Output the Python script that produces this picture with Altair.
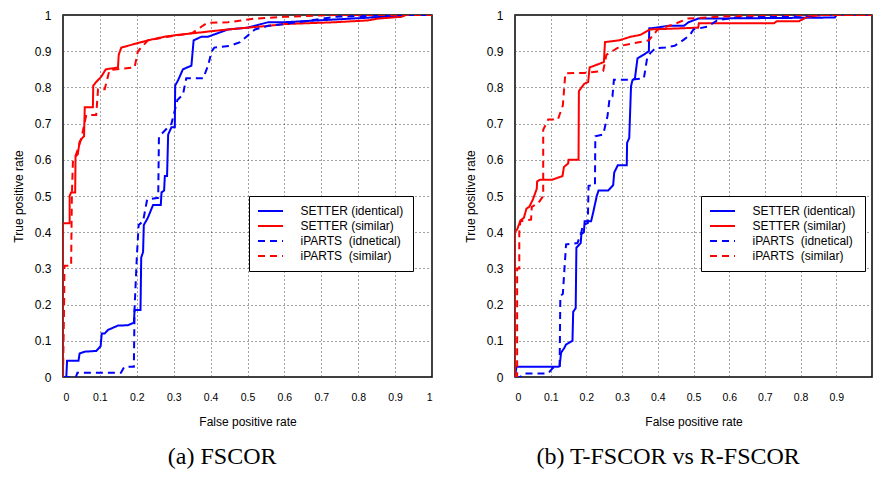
import altair as alt
import pandas as pd

FONT = "Liberation Sans"
SERIF = "Liberation Serif"

NAMES = ["SETTER (identical)", "SETTER (similar)",
         "iPARTS\u00a0 (idnetical)", "iPARTS\u00a0 (similar)"]
COLORS = ["#0000ff", "#ff0000", "#0000ff", "#ff0000"]
DASHES = [[1, 0], [1, 0], [7, 5], [7, 5]]
TICKS = [0, 0.1, 0.2, 0.3, 0.4, 0.5, 0.6, 0.7, 0.8, 0.9, 1]
TICKS_B = [0, 0.1, 0.2, 0.3, 0.4, 0.5, 0.6, 0.7, 0.8, 0.9]

# ---- panel (a) FSCOR ----
A_SET_ID_X = [0, 0.009, 0.011, 0.042, 0.045, 0.059, 0.09, 0.102, 0.105, 0.113, 0.122, 0.149, 0.176, 0.192,
              0.194, 0.21, 0.212, 0.217, 0.219, 0.23, 0.244, 0.265, 0.267, 0.274, 0.276, 0.282, 0.285, 0.294,
              0.303, 0.304, 0.312, 0.325, 0.348, 0.354, 0.375, 0.393, 0.447, 0.5, 0.537, 0.556, 0.6, 0.69,
              0.78, 0.87, 0.925, 1.0]
A_SET_ID_Y = [0, 0, 0.045, 0.045, 0.065, 0.07, 0.072, 0.085, 0.12, 0.12, 0.13, 0.142, 0.143, 0.15,
              0.185, 0.185, 0.33, 0.345, 0.42, 0.44, 0.475, 0.475, 0.51, 0.515, 0.555, 0.555, 0.67, 0.69,
              0.69, 0.805, 0.82, 0.85, 0.86, 0.93, 0.94, 0.94, 0.96, 0.965, 0.975, 0.98, 0.98, 0.985,
              0.99, 0.995, 1.0, 1.0]

A_SET_SIM_X = [0, 0, 0.018, 0.018, 0.022, 0.033, 0.034, 0.04, 0.045, 0.052, 0.057, 0.059, 0.081, 0.082,
               0.09, 0.104, 0.116, 0.149, 0.151, 0.158, 0.194, 0.23, 0.275, 0.31, 0.357, 0.4, 0.447, 0.5,
               0.556, 0.6, 0.736, 0.826, 0.853, 0.917, 0.93, 1.0]
A_SET_SIM_Y = [0, 0.425, 0.425, 0.5, 0.51, 0.51, 0.61, 0.615, 0.65, 0.66, 0.665, 0.745, 0.745, 0.805,
               0.815, 0.83, 0.85, 0.855, 0.89, 0.91, 0.92, 0.93, 0.94, 0.945, 0.95, 0.955, 0.96, 0.965,
               0.97, 0.975, 0.98, 0.985, 0.99, 0.995, 1.0, 1.0]

A_IP_ID_X = [0, 0.035, 0.039, 0.157, 0.166, 0.192, 0.194, 0.2, 0.205, 0.217, 0.228, 0.258, 0.26, 0.266,
             0.294, 0.31, 0.325, 0.334, 0.38, 0.393, 0.403, 0.41, 0.453, 0.48, 0.52, 0.556, 0.6, 0.67,
             0.736, 0.917, 1.0]
A_IP_ID_Y = [0, 0, 0.012, 0.012, 0.028, 0.028, 0.19, 0.33, 0.42, 0.43, 0.49, 0.495, 0.665, 0.67,
             0.70, 0.765, 0.78, 0.825, 0.825, 0.86, 0.9, 0.91, 0.915, 0.925, 0.96, 0.97, 0.975, 0.985,
             0.995, 1.0, 1.0]

A_IP_SIM_X = [0, 0.003, 0.004, 0.022, 0.024, 0.027, 0.034, 0.05, 0.063, 0.09, 0.095, 0.113, 0.126, 0.194,
              0.203, 0.23, 0.285, 0.35, 0.39, 0.447, 0.52, 0.6, 0.736, 1.0]
A_IP_SIM_Y = [0, 0.2, 0.307, 0.307, 0.5, 0.6, 0.61, 0.66, 0.724, 0.724, 0.795, 0.795, 0.848, 0.855,
              0.9, 0.93, 0.94, 0.95, 0.978, 0.98, 0.99, 0.995, 1.0, 1.0]

# ---- panel (b) T-FSCOR vs R-FSCOR ----
B_SET_ID_X = [0, 0.004, 0.12, 0.125, 0.129, 0.138, 0.143, 0.161, 0.163, 0.17, 0.172, 0.184, 0.186, 0.193,
              0.195, 0.213, 0.218, 0.229, 0.234, 0.261, 0.275, 0.278, 0.288, 0.313, 0.314, 0.32, 0.325,
              0.329, 0.336, 0.343, 0.36, 0.375, 0.376, 0.395, 0.429, 0.473, 0.486, 0.513, 0.896, 0.9, 1.0]
B_SET_ID_Y = [0, 0.028, 0.028, 0.03, 0.067, 0.08, 0.09, 0.10, 0.18, 0.19, 0.357, 0.37, 0.395, 0.40,
              0.43, 0.43, 0.45, 0.5, 0.515, 0.515, 0.53, 0.565, 0.585, 0.585, 0.647, 0.66, 0.803,
              0.82, 0.825, 0.88, 0.89, 0.90, 0.963, 0.965, 0.97, 0.97, 0.98, 0.99, 0.993, 1.0, 1.0]

B_SET_SIM_X = [0, 0, 0.007, 0.015, 0.025, 0.032, 0.04, 0.05, 0.061, 0.062, 0.07, 0.104, 0.133, 0.137,
               0.149, 0.15, 0.178, 0.179, 0.194, 0.205, 0.209, 0.249, 0.252, 0.292, 0.324, 0.351, 0.378,
               0.513, 0.515, 0.725, 0.734, 0.796, 0.819, 0.86, 1.0]
B_SET_SIM_Y = [0, 0.40, 0.41, 0.432, 0.44, 0.465, 0.47, 0.49, 0.52, 0.54, 0.545, 0.545, 0.555, 0.58,
               0.59, 0.60, 0.60, 0.79, 0.81, 0.815, 0.855, 0.87, 0.925, 0.93, 0.94, 0.945, 0.96,
               0.965, 0.977, 0.977, 0.983, 0.983, 0.995, 1.0, 1.0]

B_IP_ID_X = [0, 0.015, 0.025, 0.093, 0.106, 0.125, 0.127, 0.134, 0.143, 0.175, 0.186, 0.19, 0.204, 0.206,
             0.224, 0.225, 0.247, 0.259, 0.265, 0.273, 0.277, 0.325, 0.361, 0.37, 0.379, 0.393, 0.42,
             0.447, 0.473, 0.49, 0.5, 0.54, 0.566, 0.617, 0.88, 1.0]
B_IP_ID_Y = [0, 0, 0.01, 0.01, 0.025, 0.03, 0.223, 0.23, 0.366, 0.37, 0.40, 0.42, 0.425, 0.528,
             0.53, 0.665, 0.67, 0.72, 0.77, 0.775, 0.821, 0.821, 0.825, 0.88, 0.895, 0.908, 0.91,
             0.915, 0.932, 0.945, 0.96, 0.968, 0.985, 0.993, 1.0, 1.0]

B_IP_SIM_X = [0, 0.006, 0.006, 0.012, 0.012, 0.015, 0.045, 0.047, 0.065, 0.079, 0.079, 0.093, 0.12, 0.134,
              0.141, 0.193, 0.247, 0.256, 0.297, 0.347, 0.375, 0.40, 0.447, 0.483, 0.568, 0.7, 1.0]
B_IP_SIM_Y = [0, 0, 0.30, 0.30, 0.40, 0.43, 0.435, 0.47, 0.48, 0.5, 0.683, 0.711, 0.711, 0.75,
              0.839, 0.84, 0.845, 0.89, 0.915, 0.925, 0.93, 0.96, 0.975, 0.99, 0.995, 1.0, 1.0]


def build(series):
    rows = []
    for name, xs, ys in series:
        for i, (x, y) in enumerate(zip(xs, ys)):
            rows.append({"fpr": x, "tpr": y, "series": name, "i": i})
    return pd.DataFrame(rows)


df_a = build([(NAMES[0], A_SET_ID_X, A_SET_ID_Y), (NAMES[1], A_SET_SIM_X, A_SET_SIM_Y),
              (NAMES[2], A_IP_ID_X, A_IP_ID_Y), (NAMES[3], A_IP_SIM_X, A_IP_SIM_Y)])
df_b = build([(NAMES[0], B_SET_ID_X, B_SET_ID_Y), (NAMES[1], B_SET_SIM_X, B_SET_SIM_Y),
              (NAMES[2], B_IP_ID_X, B_IP_ID_Y), (NAMES[3], B_IP_SIM_X, B_IP_SIM_Y)])


def panel(df, caption, width, xticks):
    legend = alt.Legend(
        title=None, orient="none", legendX=186, legendY=181,
        fillColor="white", strokeColor="black", padding=9,
        labelFont=FONT, labelFontSize=12, labelColor="black", labelLimit=300,
        symbolType="M-2.5,0H2.5", symbolSize=100, symbolStrokeWidth=2,
        symbolOffset=6.5, labelOffset=24, rowPadding=3,
    )
    common = dict(grid=True, gridDash=[1, 3], gridColor="#444444", gridWidth=1,
                  domain=False, ticks=False, labelFont=FONT, labelColor="black",
                  titleFont=FONT, titleFontSize=12, titleFontWeight="normal",
                  titleColor="black", format="~g")
    return alt.Chart(df).mark_line(strokeWidth=2, clip=True).encode(
        x=alt.X("fpr:Q", scale=alt.Scale(domain=[0, 1], nice=False, zero=False),
                axis=alt.Axis(values=xticks, title="False positive rate", labelFontSize=10.5,
                              labelPadding=15, titlePadding=14, **common)),
        y=alt.Y("tpr:Q", scale=alt.Scale(domain=[0, 1], nice=False, zero=False),
                axis=alt.Axis(values=TICKS, title="True positive rate", labelFontSize=12,
                              labelPadding=12, titlePadding=9, **common)),
        color=alt.Color("series:N", scale=alt.Scale(domain=NAMES, range=COLORS), legend=legend),
        strokeDash=alt.StrokeDash("series:N", scale=alt.Scale(domain=NAMES, range=DASHES), legend=legend),
        order=alt.Order("i:Q"),
    ).properties(
        width=width, height=362,
        title=alt.TitleParams(caption, orient="bottom", font=SERIF, fontSize=24,
                              fontWeight="normal", color="black", offset=17,
                              anchor="middle", frame="bounds"),
    )


chart = alt.hconcat(
    panel(df_a, "(a) FSCOR", 369, TICKS),
    panel(df_b, "(b) T-FSCOR vs R-FSCOR", 357, TICKS_B),
    spacing=30,
).resolve_scale(color="independent", strokeDash="independent").resolve_legend(
    color="independent", strokeDash="independent"
).properties(
    padding={"left": 3, "top": 0, "right": 0, "bottom": 0}
).configure_view(stroke="black", strokeWidth=1.5)

chart.save("out.html", embed_options={"renderer": "svg", "actions": False})
